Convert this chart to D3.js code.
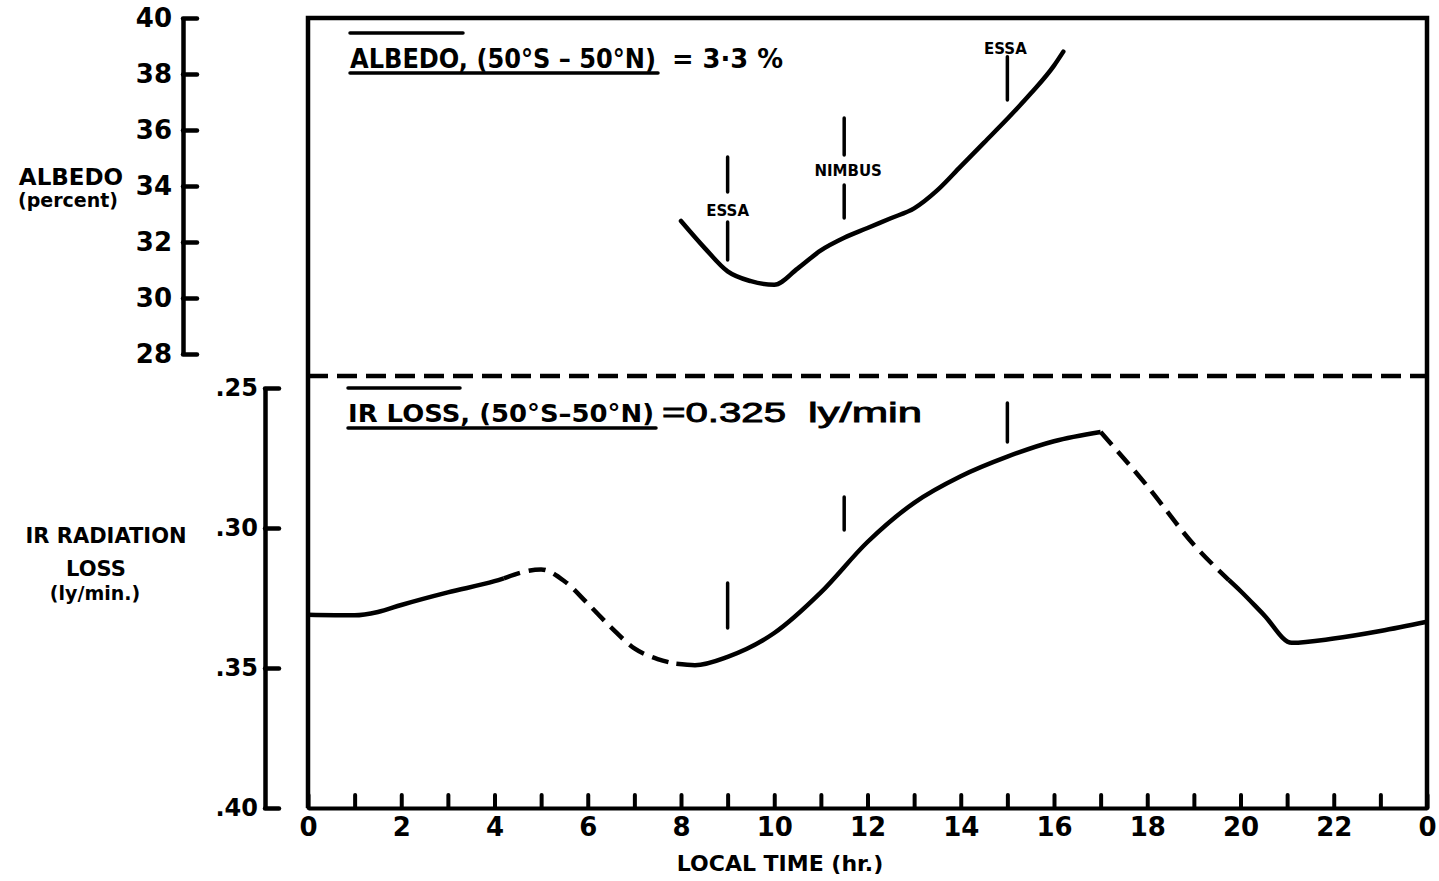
<!DOCTYPE html>
<html>
<head>
<meta charset="utf-8">
<title>Albedo and IR loss by local time</title>
<script src="https://d3js.org/d3.v7.min.js"></script>
<style>
  body { margin: 0; background: #fff; }
</style>
</head>
<body>
<svg width="1439" height="881" font-family="DejaVu Sans" font-weight="bold"></svg>
<script>
// ---- data ----
const hourTicks = d3.range(0, 25);
const albedoTicks = [28, 30, 32, 34, 36, 38, 40];
const irTicks = [0.25, 0.30, 0.35, 0.40];

const albedoHours  = [8.0, 8.5, 9.0, 9.5, 10.0, 10.5, 11.0, 11.5, 12.0, 12.5, 13.0, 13.5, 14.0, 14.5, 15.0, 15.5, 16.0, 16.2];
const albedoValues = [32.75, 31.8, 30.95, 30.6, 30.47, 31.05, 31.7, 32.15, 32.5, 32.85, 33.2, 33.85, 34.7, 35.55, 36.4, 37.3, 38.3, 38.8];

const irHours  = [0, 1, 1.5, 2, 3, 4, 4.2, 5, 5.5, 6, 6.5, 7, 7.5, 7.9, 8.3, 9, 10, 11, 12, 13, 14, 15, 16, 17, 18, 19, 19.75, 20, 20.5, 21.1, 22, 23, 24];
const irValues = [0.3310, 0.3312, 0.3300, 0.3275, 0.3230, 0.3190, 0.3180, 0.3148, 0.3190, 0.3270, 0.3355, 0.3430, 0.3468, 0.3485, 0.3490, 0.3460, 0.3375, 0.3230, 0.3050, 0.2910, 0.2815, 0.2745, 0.2690, 0.2657, 0.2850, 0.3060, 0.3186, 0.3225, 0.3310, 0.3410, 0.3395, 0.3368, 0.3335];
// solid / dashed pieces of the IR curve
const irBreaks = [0, 4.2, 7.9, 17, 19.75, 24];
const irDashed = [false, true, false, true, false];

// satellite crossing times
const satHours = [9, 11.5, 15];
const satNames = ["ESSA", "NIMBUS", "ESSA"];
const satLabelAlbedo = [32.93, 34.36, 38.71];
const satAlbedoBars = [[[35.04, 33.79], [32.71, 31.36]], [[36.43, 35.11], [34.04, 32.86]], [[38.62, 37.07]]];
const satIrBars = [[0.3196, 0.3357], [0.2889, 0.3007], [0.2554, 0.2693]];

// ---- layout ----
const svg = d3.select("svg");
const x = d3.scaleLinear().domain([0, 24]).range([308, 1427]);
const yAlb = d3.scaleLinear().domain([28, 40]).range([354, 18]);
const yIr = d3.scaleLinear().domain([0.25, 0.40]).range([388, 808]);

function styleAxis(g, w, fs) {
  g.attr("font-family", "DejaVu Sans").attr("font-size", fs);
  g.select(".domain").attr("stroke", "#000").attr("stroke-width", w);
  g.selectAll(".tick line").attr("stroke", "#000").attr("stroke-width", w).attr("stroke-linecap", "round");
  g.selectAll(".tick text").attr("font-weight", "bold");
}

// albedo axis
svg.append("g")
  .attr("transform", "translate(183,0)")
  .call(d3.axisLeft(yAlb).tickValues(albedoTicks).tickSizeInner(-14).tickSizeOuter(0).tickPadding(11))
  .call(g => styleAxis(g, 4.5, 26));

// IR axis
svg.append("g")
  .attr("transform", "translate(265,0)")
  .call(d3.axisLeft(yIr).tickValues(irTicks).tickSizeInner(-14).tickSizeOuter(0).tickPadding(7)
    .tickFormat(d => d3.format(".2f")(d).replace(/^0/, "")))
  .call(g => styleAxis(g, 4.5, 24));

// time axis
svg.append("g")
  .attr("transform", "translate(0,808)")
  .call(d3.axisBottom(x).tickValues(hourTicks).tickSizeInner(-13).tickSizeOuter(0).tickPadding(10)
    .tickFormat(d => d % 2 ? "" : String(d % 24)))
  .call(g => styleAxis(g, 4, 26));

// frame
svg.append("path")
  .attr("d", `M${x(0)},808V${yAlb(40)}H${x(24)}V808`)
  .attr("fill", "none").attr("stroke", "#000").attr("stroke-width", 4.5);

// panel separator
svg.append("line")
  .attr("x1", x(0)).attr("x2", x(24)).attr("y1", 376).attr("y2", 376)
  .attr("stroke", "#000").attr("stroke-width", 4.5).attr("stroke-dasharray", "20,9");

// axis titles
const titles = [
  ["ALBEDO", 71, 185, 23], ["(percent)", 68, 207, 19],
  ["IR RADIATION", 106, 543, 21], ["LOSS", 96, 576, 21], ["(ly/min.)", 95, 600, 19],
  ["LOCAL TIME (hr.)", 780, 871, 22]
];
svg.selectAll(".title").data(titles).join("text")
  .attr("class", "title")
  .attr("x", d => d[1]).attr("y", d => d[2])
  .attr("text-anchor", "middle").attr("font-size", d => d[3])
  .text(d => d[0]);

// albedo curve
const albedoPts = albedoHours.map((h, i) => [h, albedoValues[i]]);
svg.append("path")
  .attr("d", d3.line().x(d => x(d[0])).y(d => yAlb(d[1])).curve(d3.curveMonotoneX)(albedoPts))
  .attr("fill", "none").attr("stroke", "#000").attr("stroke-width", 4.5).attr("stroke-linecap", "round");

// IR curve, piece by piece
const irPts = irHours.map((h, i) => [h, irValues[i]]);
const irLine = d3.line().x(d => x(d[0])).y(d => yIr(d[1])).curve(d3.curveMonotoneX);
irDashed.forEach((dashed, i) => {
  const seg = irPts.filter(p => p[0] >= irBreaks[i] && p[0] <= irBreaks[i + 1]);
  svg.append("path")
    .attr("d", irLine(seg))
    .attr("fill", "none").attr("stroke", "#000").attr("stroke-width", 4.5)
    .attr("stroke-dasharray", dashed ? "17,9" : null);
});

// satellite marks
satHours.forEach((h, i) => {
  satAlbedoBars[i].forEach(b => {
    svg.append("line")
      .attr("x1", x(h)).attr("x2", x(h)).attr("y1", yAlb(b[0])).attr("y2", yAlb(b[1]))
      .attr("stroke", "#000").attr("stroke-width", 3.5).attr("stroke-linecap", "round");
  });
  svg.append("text")
    .attr("x", x(h) + (i === 1 ? 4 : i === 0 ? 0 : -2)).attr("y", yAlb(satLabelAlbedo[i]))
    .attr("text-anchor", "middle").attr("font-size", 15)
    .text(satNames[i]);
  svg.append("line")
    .attr("x1", x(h)).attr("x2", x(h)).attr("y1", yIr(satIrBars[i][0])).attr("y2", yIr(satIrBars[i][1]))
    .attr("stroke", "#000").attr("stroke-width", 3.5).attr("stroke-linecap", "round");
});

// mean value notes
svg.append("text").attr("x", 350).attr("y", 68).attr("font-size", 26)
  .attr("textLength", 306).attr("lengthAdjust", "spacingAndGlyphs")
  .text("ALBEDO, (50°S – 50°N)");
svg.append("text").attr("x", 672).attr("y", 68).attr("font-size", 26)
  .attr("textLength", 111).attr("lengthAdjust", "spacingAndGlyphs")
  .text("= 3·3 %");
svg.append("text").attr("x", 348).attr("y", 422).attr("font-size", 25)
  .attr("textLength", 306).attr("lengthAdjust", "spacingAndGlyphs")
  .text("IR LOSS, (50°S–50°N)");
svg.append("text").attr("x", 662).attr("y", 422).attr("font-size", 28)
  .attr("font-weight", "normal").attr("font-family", "Liberation Sans")
  .attr("stroke", "#000").attr("stroke-width", 0.9)
  .attr("textLength", 124).attr("lengthAdjust", "spacingAndGlyphs")
  .text("=0.325");
svg.append("text").attr("x", 808).attr("y", 422).attr("font-size", 28)
  .attr("font-weight", "normal").attr("font-family", "Liberation Sans")
  .attr("stroke", "#000").attr("stroke-width", 0.9)
  .attr("textLength", 114).attr("lengthAdjust", "spacingAndGlyphs")
  .text("ly/min");

// over/under rules of the notes
const rules = [[350, 463, 33], [350, 658, 73], [348, 460, 388], [348, 656, 428]];
svg.selectAll(".rule").data(rules).join("line")
  .attr("class", "rule")
  .attr("x1", d => d[0]).attr("x2", d => d[1]).attr("y1", d => d[2]).attr("y2", d => d[2])
  .attr("stroke", "#000").attr("stroke-width", 3.5).attr("stroke-linecap", "round");
</script>
</body>
</html>
